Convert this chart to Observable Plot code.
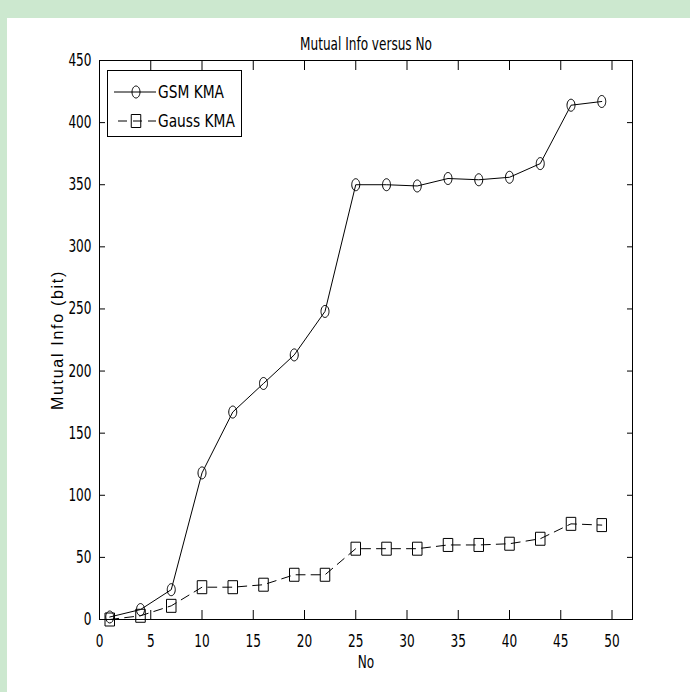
<!DOCTYPE html>
<html><head><meta charset="utf-8">
<script src="https://cdn.jsdelivr.net/npm/d3@7"></script>
<script src="https://cdn.jsdelivr.net/npm/@observablehq/plot@0.6"></script>
<style>
body{margin:0;background:#fff;}
#wrap{position:relative;width:690px;height:692px;background:#cce8cf;overflow:hidden;}
#paper{position:absolute;left:7px;top:18px;right:0;bottom:0;background:#fff;}
#chart{position:absolute;left:0;top:0;}
#legend{position:absolute;left:0;top:0;}
.narrow{font-family:'Liberation Sans Narrow','Arial Narrow','DejaVu Sans Condensed',sans-serif;font-stretch:condensed;}
</style></head><body>
<div id="wrap"><div id="paper"></div><div id="chart"></div></div>
<script>
const title = "Mutual Info versus No";
const xLabel = "No";
const yLabel = "Mutual Info (bit)";
const seriesNames = ["GSM KMA", "Gauss KMA"];
const no = [1, 4, 7, 10, 13, 16, 19, 22, 25, 28, 31, 34, 37, 40, 43, 46, 49];
const gsmKMA = [2, 8, 24, 118, 167, 190, 213, 248, 350, 350, 349, 355, 354, 356, 367, 414, 417];
const gaussKMA = [0, 3, 11, 26, 26, 28, 36, 36, 57, 57, 57, 60, 60, 61, 65, 77, 76];
const xTicks = [0, 5, 10, 15, 20, 25, 30, 35, 40, 45, 50];
const yTicks = [0, 50, 100, 150, 200, 250, 300, 350, 400, 450];

const gsmData = no.map((n, i) => ({no: n, v: gsmKMA[i]}));
const gaussData = no.map((n, i) => ({no: n, v: gaussKMA[i]}));

const K = 0.5523;
const ellipse = {draw(ctx) {
  const rx = 4, ry = 6;
  ctx.moveTo(rx, 0);
  ctx.bezierCurveTo(rx, ry * K, rx * K, ry, 0, ry);
  ctx.bezierCurveTo(-rx * K, ry, -rx, ry * K, -rx, 0);
  ctx.bezierCurveTo(-rx, -ry * K, -rx * K, -ry, 0, -ry);
  ctx.bezierCurveTo(rx * K, -ry, rx, -ry * K, rx, 0);
  ctx.closePath();
}};
const box = {draw(ctx) { ctx.rect(-4.75, -6.5, 9.5, 13); }};

const narrow = "'Liberation Sans Narrow', 'Arial Narrow', 'DejaVu Sans Condensed', sans-serif";
const blank = () => "";

const chart = Plot.plot({
  width: 690, height: 692,
  marginLeft: 99, marginRight: 58, marginTop: 60, marginBottom: 73,
  style: {background: "transparent", fontFamily: narrow, fontSize: "17px", color: "black", fontStretch: "condensed"},
  x: {domain: [0, 52]},
  y: {domain: [0, 450]},
  marks: [
    Plot.frame({stroke: "black", strokeWidth: 1}),
    Plot.axisX(xTicks, {anchor: "bottom", tickSize: 0, tickPadding: 15, label: null, fontSize: 17}),
    Plot.axisX(xTicks, {anchor: "bottom", tickSize: 9, dy: -9, tickFormat: blank, label: null}),
    Plot.axisX(xTicks, {anchor: "top", tickSize: 9, dy: 9, tickFormat: blank, label: null}),
    Plot.axisY(yTicks, {anchor: "left", tickSize: 0, tickPadding: 8, label: null, fontSize: 17}),
    Plot.axisY(yTicks, {anchor: "left", tickSize: 6, dx: 6, tickFormat: blank, label: null}),
    Plot.axisY(yTicks, {anchor: "right", tickSize: 6, dx: -6, tickFormat: blank, label: null}),
    Plot.line(gsmData, {x: "no", y: "v", stroke: "black", strokeWidth: 1}),
    Plot.dot(gsmData, {x: "no", y: "v", symbol: ellipse, stroke: "black", strokeWidth: 1, fill: "none"}),
    Plot.line(gaussData, {x: "no", y: "v", stroke: "black", strokeWidth: 1, strokeDasharray: "9,6"}),
    Plot.dot(gaussData, {x: "no", y: "v", symbol: box, stroke: "black", strokeWidth: 1, fill: "none"}),
    Plot.text([title], {text: d => d, frameAnchor: "top", dy: -23, fontSize: 17}),
    Plot.text([xLabel], {text: d => d, frameAnchor: "bottom", dy: 48, fontSize: 17}),
    Plot.text([yLabel], {text: d => d, frameAnchor: "left", textAnchor: "middle", lineAnchor: "middle", dx: -42, rotate: -90, fontSize: 16, fontFamily: "'Liberation Sans', Arial, sans-serif"})
  ]
});
document.getElementById("chart").appendChild(chart);

// Legend (inside the axes, top-left)
const lg = d3.select("#wrap").append("svg").attr("id", "legend").attr("width", 690).attr("height", 692);
lg.append("rect").attr("x", 107.5).attr("y", 70.5).attr("width", 134).attr("height", 66)
  .attr("fill", "white").attr("stroke", "black").attr("stroke-width", 1);
const rows = [
  {name: seriesNames[0], y: 92, dash: null, sym: ellipse},
  {name: seriesNames[1], y: 121, dash: "9,6", sym: box}
];
rows.forEach((r, i) => {
  lg.append("line").attr("x1", i === 0 ? 114 : 118).attr("x2", 156).attr("y1", r.y).attr("y2", r.y)
    .attr("stroke", "black").attr("stroke-width", 1).attr("stroke-dasharray", r.dash);
  lg.append("path").attr("d", d3.symbol(r.sym)()).attr("transform", `translate(136,${r.y})`)
    .attr("fill", "none").attr("stroke", "black").attr("stroke-width", 1);
  lg.append("text").attr("class", "narrow legend-label").attr("x", 158).attr("y", r.y).attr("dy", "0.35em")
    .style("font-size", "17px").text(r.name);
});

// condense glyphs to mimic the narrow MATLAB font
d3.select("#wrap").selectAll("text").each(function() {
  if (this.textContent === yLabel) {
    d3.select(this).style("letter-spacing", "1.7px").style("font-stretch", "normal");
    return;
  }
  const len = this.getComputedTextLength();
  const f = this.classList.contains("legend-label") ? 0.9 : 0.79;
  if (len > 0) {
    this.setAttribute("textLength", (len * f).toFixed(1));
    this.setAttribute("lengthAdjust", "spacingAndGlyphs");
  }
});
</script>
</body></html>
